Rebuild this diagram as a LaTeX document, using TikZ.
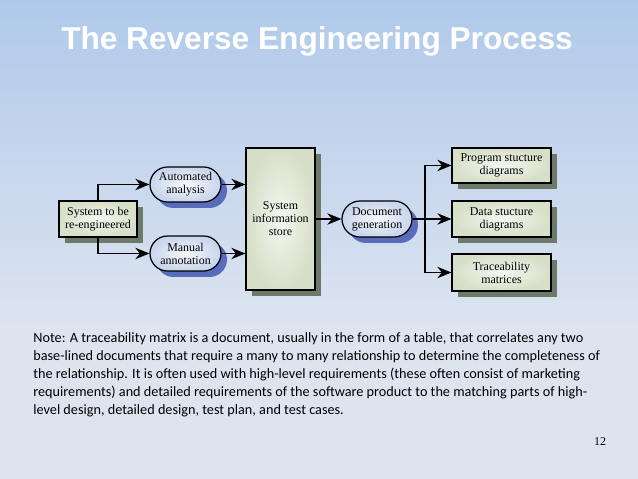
\documentclass[tikz,border=0pt]{standalone}
\usepackage{fontspec}
\setmainfont{Liberation Serif}
\newfontfamily\titlefont{Liberation Sans}
\newfontfamily\notefont{Carlito}
\usetikzlibrary{arrows.meta,shadows}

\definecolor{bgtop}{RGB}{176,201,234}
\definecolor{bgbot}{RGB}{221,228,240}
\definecolor{boxin}{RGB}{245,247,240}
\definecolor{boxout}{RGB}{214,223,200}
\definecolor{boxshadow}{RGB}{110,122,105}
\definecolor{pillin}{RGB}{246,248,252}
\definecolor{pillout}{RGB}{200,213,236}
\definecolor{pillshadow}{RGB}{88,108,188}

\begin{document}
\begin{tikzpicture}[x=0.02cm,y=-0.02cm]

\def\shoff{0.12cm}
\def\boxfont{\fontsize{6.8}{7.4}\selectfont}

\tikzset{procbox/.style = {draw, line width=0.7pt, align=center, inner sep=1pt, font=\boxfont,
    shading=radial, inner color=boxin, outer color=boxout,
    drop shadow={shadow xshift=\shoff, shadow yshift=-\shoff, fill=boxshadow, opacity=1}}}
\tikzset{pillbox/.style = {draw, line width=0.7pt, align=center, inner sep=1pt, font=\boxfont,
    rounded corners=0.35cm, minimum width=1.42cm, minimum height=0.7cm,
    shading=radial, inner color=pillin, outer color=pillout,
    drop shadow={shadow xshift=\shoff, shadow yshift=-\shoff, fill=pillshadow, opacity=1}}}
\tikzset{arr/.style = {line width=0.6pt, -{Stealth[length=8pt,width=6.5pt]}}}
\tikzset{line/.style = {line width=0.6pt}}

% background
\useasboundingbox (0,0) rectangle (638,479);
\fill[bgbot] (0,0) rectangle (638,479);
\shade[top color=bgtop, bottom color=bgbot] (0,0) rectangle (638,330);

\node[anchor=base, text=white, font=\titlefont\bfseries\fontsize{18}{20}\selectfont] (title) at (317,50) {The Reverse Engineering Process};

% diagram
\node[procbox, minimum width=1.56cm, minimum height=0.72cm] (sys) at (98,219) {System to be\\re-engineered};
\node[pillbox] (auto) at (185.5,184.5) {Automated\\analysis};
\node[pillbox] (manual) at (185.5,253.5) {Manual\\annotation};
\node[procbox, minimum width=1.38cm, minimum height=2.84cm] (store) at (280.5,219) {System\\information\\store};
\node[pillbox, minimum width=1.4cm, minimum height=0.72cm, rounded corners=0.36cm] (docgen) at (377,219) {Document\\generation};
\node[procbox, minimum width=1.98cm, minimum height=0.7cm] (prog) at (501.5,165.5) {Program stucture\\diagrams};
\node[procbox, minimum width=1.98cm, minimum height=0.72cm] (data) at (501.5,219) {Data stucture\\diagrams};
\node[procbox, minimum width=1.98cm, minimum height=0.74cm] (trace) at (501.5,272.5) {Traceability\\matrices};

\draw[arr] (sys.north) |- (auto.west);
\draw[arr] (sys.south) |- (manual.west);
\draw[arr] (auto.east) -- (auto.east -| store.west);
\draw[arr] (manual.east) -- (manual.east -| store.west);
\draw[arr] (store.east) -- (docgen.west);

\coordinate (split) at (425,219);
\draw[line] (docgen.east) -- (split);
\draw[arr] (split) |- (prog.west);
\draw[arr] (split) -- (data.west);
\draw[arr] (split) |- (trace.west);

% note
\node[anchor=north west, align=left, inner sep=0pt, font=\notefont\fontsize{8.1}{10.3}\selectfont] (note) at (33,332)
  {Note: A traceability matrix is a document, usually in the form of a table, that correlates any two\\
   base-lined documents that require a many to many relationship to determine the completeness of\\
   the relationship. It is often used with high-level requirements (these often consist of marketing\\
   requirements) and detailed requirements of the software product to the matching parts of high-\\
   level design, detailed design, test plan, and test cases.};

\node[font=\fontsize{6.8}{8}\selectfont] (pagenum) at (600,442) {12};

\end{tikzpicture}
\end{document}
